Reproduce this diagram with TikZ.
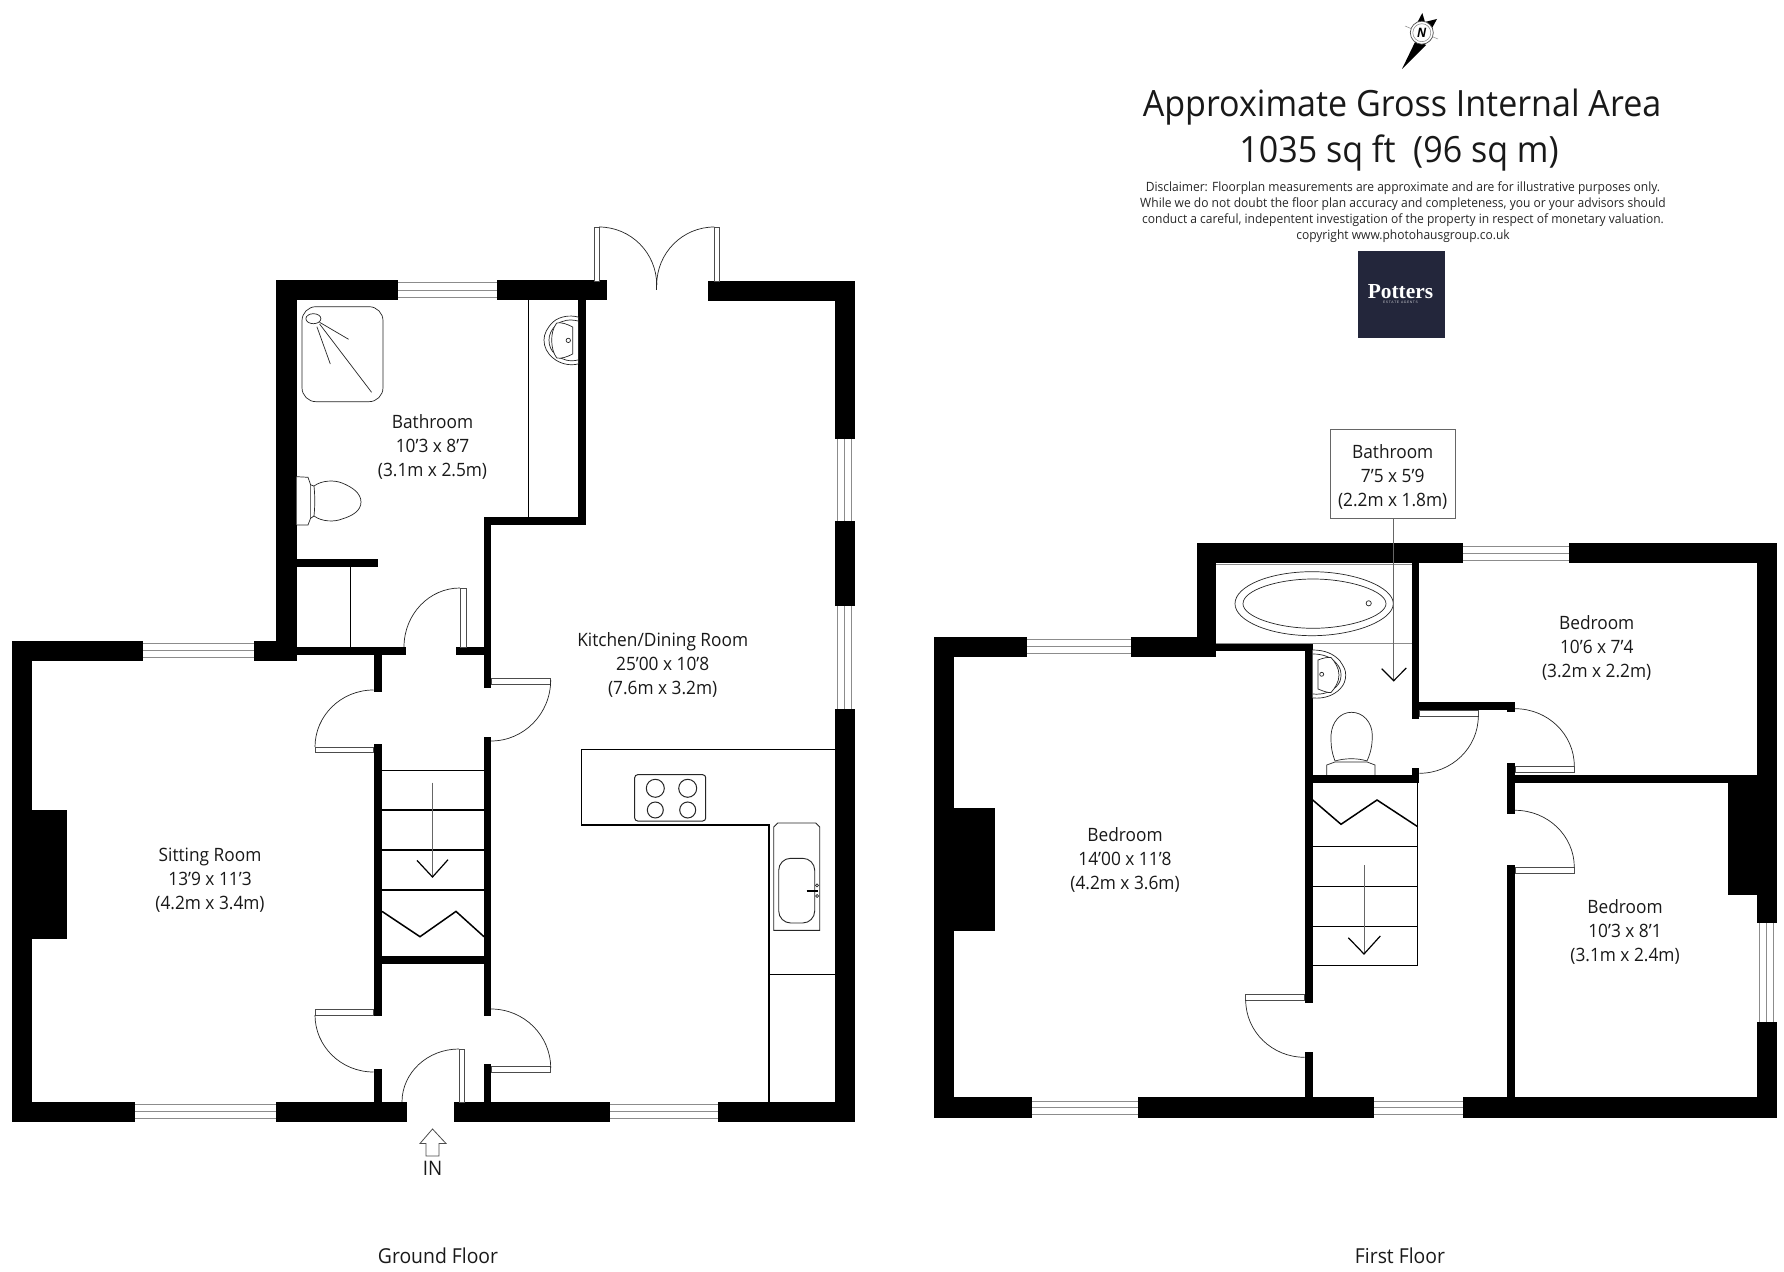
\documentclass[tikz,border=0pt]{standalone}
\usepackage{fontspec}
\setmainfont{Open Sans}[FakeStretch=0.94]
\newfontfamily\logofont{Liberation Serif}
\newfontfamily\logosans{Liberation Sans}
\usetikzlibrary{calc}
\definecolor{winc}{gray}{0.55}
\definecolor{logoc}{HTML}{23263B}
\tikzset{
  room/.style={align=center,inner sep=0pt,font=\fontsize{9.2}{12}\selectfont,text=black!90},
  floorname/.style={inner sep=0pt,font=\fontsize{10.3}{12}\selectfont,text=black!90},
  thin line/.style={draw=black,line width=0.35pt},
  fixture/.style={draw=black!85,line width=0.35pt,fill=white},
  counter/.style={draw=black,line width=0.6pt},
  doorarc/.style={draw=black!85,line width=0.35pt},
  leaf/.style={draw=black!70,line width=0.4pt,fill=white},
  winline/.style={draw=winc,line width=0.5pt},
  stairline/.style={draw=black,line width=0.6pt},
  arrowline/.style={draw=black!60,line width=0.4pt},
  arrowhead/.style={draw=black,line width=0.6pt},
}
\newcommand\wall[4]{\fill[black] (#1,#2) rectangle (#3,#4);}
\newcommand\qarc[3]{\draw[doorarc] (#1) .. controls ($(#1)!0.5523!(#2)$) and ($(#3)!0.5523!(#2)$) .. (#3);}
\newcommand\hwin[5]{\draw[winline] (#1,#3) -- (#2,#3) (#1,#4) -- (#2,#4) (#1,#5) -- (#2,#5);}
\newcommand\vwin[5]{\draw[winline] (#3,#1) -- (#3,#2) (#4,#1) -- (#4,#2) (#5,#1) -- (#5,#2);}
\begin{document}
\begin{tikzpicture}[x=0.5pt,y=-0.5pt]
\useasboundingbox (0,0) rectangle (1784,1272);
\fill[white] (0,0) rectangle (1784,1272);

% ===== GROUND FLOOR =====
% windows
\hwin{398}{497}{283}{290.5}{298}
\hwin{142}{254}{644}{651}{658}
\hwin{135}{276}{1104.5}{1111.5}{1118.5}
\hwin{610}{718}{1104.5}{1111.5}{1118.5}
\vwin{438}{522}{837.7}{844.7}{851.7}
\vwin{605}{710}{837.7}{844.7}{851.7}
% walls
\wall{276}{280}{398}{300}
\wall{497}{280}{607}{300.5}
\wall{276}{280}{296.6}{661}
\wall{578}{300}{586}{525}
\wall{484}{517}{586}{525}
\wall{484}{517}{491}{688}
\wall{484}{737}{491}{1016}
\wall{484}{1063.5}{491}{1102}
\wall{12}{641}{142.5}{661}
\wall{254}{641}{296.6}{661}
\wall{12}{641}{32}{1122}
\wall{12}{1102}{135}{1122}
\wall{276}{1102}{406.8}{1122}
\wall{454}{1102}{610}{1122}
\wall{718}{1102}{855}{1122}
\wall{32}{809.5}{67}{938.6}
\wall{296.6}{647}{406.4}{655}
\wall{456}{647}{484}{655}
\wall{373.5}{655}{382}{692}
\wall{373.5}{744}{382}{1016}
\wall{373.5}{1069}{382}{1102}
\wall{382}{955.6}{484}{964}
\wall{296.6}{559}{377.7}{567}
\wall{708.3}{281}{855}{301}
\wall{835}{281}{855}{438.6}
\wall{835}{521}{855}{605.7}
\wall{835}{709.3}{855}{1122}
% thin partitions
\draw[thin line,line width=0.5pt] (528.5,300) -- (528.5,517);
\draw[thin line,line width=0.5pt] (350,567) -- (350,647);
% shower
\draw[fixture,rounded corners=7pt] (302,306.7) rectangle (383,401.7);
\draw[fixture] (313.4,318.7) ellipse [x radius=7.5,y radius=5];
\draw[fixture] (319.6,322.3) -- (348.6,339.3) (316.9,326.7) -- (330.3,364) (319.6,324) -- (371.6,392.3);
% ground toilet
\draw[fixture] (296.6,476.7) -- (308,477.3) -- (310.7,485) -- (310.7,518) -- (308,525) -- (296.6,525);
\draw[fixture] (311,485) -- (314,486) .. controls (322,480) and (335,480) .. (342,483) .. controls (352,487) and (361,493) .. (361,502) .. controls (361,511) and (352,516) .. (342,519) .. controls (335,522) and (322,522) .. (314,516) -- (311,518);
\draw[fixture,fill=none] (314,486) .. controls (315,495) and (315,507) .. (314,516);
% ground sink
\draw[fixture] (578,317) .. controls (570,315) and (560,316) .. (553,322) .. controls (547,328) and (544,334) .. (544,340) .. controls (544,347) and (547,353) .. (553,358) .. controls (560,364) and (570,366) .. (578,364);
\draw[fixture,fill=none] (578,321) .. controls (570,319) and (562,320) .. (556,325) .. controls (551,330) and (549,335) .. (549,340) .. controls (549,346) and (551,351) .. (556,355) .. controls (562,360) and (570,362) .. (578,360);
\draw[fixture,line join=round] (572.7,327) .. controls (567,324) and (561,322) .. (556.7,323) .. controls (553,328) and (551.7,334) .. (551.7,340) .. controls (551.7,346) and (553,353) .. (556.7,358) .. controls (561,359) and (567,357) .. (572.7,354) -- cycle;
\draw[fixture] (568.3,340.4) circle [radius=2.2];
% doors
\draw[leaf] (460,588) rectangle (466,647);
\qarc{460,588}{404,588}{404,647}
\draw[leaf] (491,678) rectangle (550.7,684);
\qarc{550.7,680}{550.7,741}{491,741}
\draw[leaf] (491,1066.7) rectangle (550.7,1072.3);
\qarc{550.7,1068}{550.7,1009}{491,1009}
\draw[leaf] (315,747) rectangle (373.5,752);
\qarc{315,747}{315,690}{373.5,690}
\draw[leaf] (315,1009) rectangle (373.5,1015);
\qarc{315,1015}{315,1072}{373.5,1072}
\draw[leaf] (459,1049) rectangle (464,1102);
\qarc{459,1049}{402,1049}{402,1102}
\draw[leaf] (594.3,227) rectangle (599,281);
\draw[leaf] (714.3,227) rectangle (719.3,281);
\qarc{599,227}{656.7,227}{656.7,285}
\qarc{714.3,227}{656.7,227}{656.7,285}
\draw[doorarc] (656.7,278) -- (656.7,290);
% stairs
\foreach \yy in {770.6,810,850,890}{\draw[stairline] (382,\yy) -- (484,\yy);}
\draw[stairline,line width=0.75pt] (382,911.4) -- (420,936.7) -- (456,911.4) -- (484,936.7);
\draw[arrowline] (432.5,782.7) -- (432.5,876);
\draw[arrowhead] (417,860.4) -- (432.5,877) -- (448,859.7);
% IN arrow
\draw[draw=black!70,line width=0.4pt] (432.5,1129) -- (446,1143.5) -- (439,1143.5) -- (439,1156) -- (426,1156) -- (426,1143.5) -- (420,1143.5) -- cycle;
% kitchen units
\draw[counter] (835,749.7) -- (581.7,749.7) -- (581.7,825) -- (769,825) -- (769,1102);
\draw[counter] (769,974.3) -- (835,974.3);
\draw[fixture,rounded corners=1.5pt,line width=0.5pt] (634.7,774.7) rectangle (705.7,821);
\draw[fixture,line width=0.5pt] (655.3,788.3) circle [radius=9] (687.7,788.3) circle [radius=9] (655.3,810) circle [radius=8] (687.7,810) circle [radius=8];
\draw[fixture,line width=0.45pt] (773.7,930.3) -- (773.7,827) -- (777.7,823) -- (815.7,823) -- (819.7,827) -- (819.7,930.3) -- cycle;
\draw[fixture,rounded corners=6pt,line width=0.45pt] (778.7,858.3) rectangle (814.7,923);
\draw[black,line width=1.2pt] (806.7,890.7) -- (817.7,890.7);
\draw[fixture] (817,885.3) circle [radius=1.5] (817,896) circle [radius=1.5];

% ===== FIRST FLOOR =====
\hwin{1027}{1131}{640}{646.7}{653.7}
\hwin{1463}{1569}{546.3}{553.3}{560.3}
\hwin{1031}{1139}{1101}{1107.7}{1114.3}
\hwin{1373}{1464}{1101}{1107.7}{1114.3}
\vwin{922}{1022}{1759.7}{1766.7}{1773.7}
\wall{933.7}{636.7}{1027.3}{656.7}
\wall{1131}{636.7}{1216.3}{656.7}
\wall{1197}{543.3}{1216.3}{656.7}
\wall{1197}{543.3}{1463}{563.3}
\wall{1568.7}{543.3}{1776.7}{563.3}
\wall{1756.7}{543.3}{1776.7}{922.7}
\wall{1756.7}{1021.7}{1776.7}{1117.5}
\wall{1728}{775}{1756.7}{895}
\wall{933.7}{1097.3}{1031.7}{1117.5}
\wall{1138.3}{1097.3}{1373.7}{1117.5}
\wall{1463.3}{1097.3}{1776.7}{1117.5}
\wall{933.7}{636.7}{953.7}{1117.5}
\wall{953.7}{808.3}{994.7}{931}
\wall{1216}{643.3}{1312.7}{651}
\wall{1304.7}{643.3}{1312.7}{1002.7}
\wall{1304.7}{1052.3}{1312.7}{1097.3}
\wall{1411.5}{563}{1419.3}{719}
\wall{1411.5}{701.7}{1515}{710}
\wall{1507.3}{701.7}{1515}{712.3}
\wall{1411.5}{768.5}{1419.3}{783}
\wall{1312.7}{775}{1419.3}{782.8}
\wall{1507.3}{763.3}{1515}{814.3}
\wall{1515}{775}{1728}{783}
\wall{1507.3}{865}{1515}{1097.3}
% bath room lines
\draw[draw=winc,line width=0.5pt] (1216.3,564.5) -- (1411.5,564.5);
\draw[draw=winc,line width=0.5pt] (1216.3,643.7) -- (1411.5,643.7);
% tub
\draw[fixture] (1235,603.7) .. controls (1235,586) and (1270,571.7) .. (1312,571.7) .. controls (1355,571.7) and (1393.3,587) .. (1393.3,603.7) .. controls (1393.3,620) and (1355,635.7) .. (1312,635.7) .. controls (1270,635.7) and (1235,621) .. cycle;
\draw[fixture] (1243,603.7) .. controls (1243,590) and (1278,579) .. (1313,579) .. controls (1350,579) and (1386,591) .. (1386,603.7) .. controls (1386,616) and (1350,628.3) .. (1313,628.3) .. controls (1278,628.3) and (1243,617) .. cycle;
\draw[fixture] (1368.7,603.3) circle [radius=2.6];
% first sink
\draw[fixture] (1312.7,650) .. controls (1325,650) and (1334,654) .. (1340,661) .. controls (1344,667) and (1345.7,670) .. (1345.7,675) .. controls (1345.7,680) and (1344,685) .. (1340,689) .. controls (1334,695) and (1325,699) .. (1312.7,698);
\draw[fixture,fill=none] (1312.7,654) .. controls (1323,654) and (1331,657) .. (1336,663) .. controls (1340,667) and (1341,671) .. (1341,675) .. controls (1341,679) and (1340,683) .. (1336,687) .. controls (1331,692) and (1323,695) .. (1312.7,694);
\draw[fixture] (1318,660) .. controls (1323,658) and (1328,657) .. (1331,657.5) .. controls (1335,662) and (1339,668) .. (1339,675) .. controls (1339,682) and (1335,688) .. (1331,692.5) .. controls (1328,693) and (1323,691) .. (1318,689) -- cycle;
\draw[fixture] (1321.7,674.3) circle [radius=2];
% first toilet
\draw[fixture] (1326.7,775) -- (1326.7,765) -- (1335,762) -- (1367,762) -- (1375,765) -- (1375,775);
\draw[fixture] (1335,761) .. controls (1331,750) and (1331,745) .. (1331,735) .. controls (1332,722) and (1340,712.3) .. (1351.5,712.3) .. controls (1363,712.3) and (1372,722) .. (1372.3,735) .. controls (1372.3,745) and (1371,752) .. (1367,761) .. controls (1358,758) and (1345,758) .. (1335,761);
% first doors
\draw[leaf] (1419.3,710) rectangle (1478.3,716.7);
\qarc{1478.3,716}{1478.3,773.3}{1419.3,773.3}
\draw[leaf] (1245.7,994) rectangle (1304.7,1000);
\qarc{1245.7,1000}{1245.7,1057.3}{1304.7,1057.3}
\draw[leaf] (1515,766) rectangle (1574.3,772);
\qarc{1574.3,766}{1574.3,708.7}{1515,708.7}
\draw[leaf] (1515,867.3) rectangle (1574.3,873.3);
\qarc{1574.3,867.3}{1574.3,810.3}{1515,810.3}
% first stairs
\foreach \yy in {846.7,886.7,926.7,965.7}{\draw[stairline] (1312.7,\yy) -- (1417.7,\yy);}
\draw[stairline] (1417.7,783) -- (1417.7,966);
\draw[stairline,line width=0.75pt] (1312.7,800) -- (1341,824.3) -- (1377,800) -- (1417.7,826.7);
\draw[arrowline] (1364,865) -- (1364,954);
\draw[arrowhead] (1348.3,937.7) -- (1364,954) -- (1380.3,936);
% bathroom label
\node[draw=black!60,line width=0.5pt,minimum width=124.5*0.5pt,minimum height=89*0.5pt,inner sep=0pt,fill=white] (bathbox) at (1393.2,474.5) {};
\node[room] (bathlabel) at (1392.7,476.5) {Bathroom\\7’5 x 5’9\\(2.2m x 1.8m)};
\coordinate (bathpoint) at (1393.7,680.7);
\draw[arrowline] (1393.7,519) -- (bathpoint);
\draw[arrowhead] (1381.7,668.7) -- (bathpoint) -- (1406.3,668);

% ===== LABELS =====
\node[room] (l1) at (432.5,447) {Bathroom\\10’3 x 8’7\\(3.1m x 2.5m)};
\node[room] (l2) at (662.7,665) {Kitchen/Dining Room\\25’00 x 10’8\\(7.6m x 3.2m)};
\node[room] (l3) at (210,880) {Sitting Room\\13’9 x 11’3\\(4.2m x 3.4m)};
\node[room] (l4) at (1125,860) {Bedroom\\14’00 x 11’8\\(4.2m x 3.6m)};
\node[room] (l5) at (1596.7,648) {Bedroom\\10’6 x 7’4\\(3.2m x 2.2m)};
\node[room] (l6) at (1625,931.5) {Bedroom\\10’3 x 8’1\\(3.1m x 2.4m)};
\node[floorname,font=\fontsize{10}{12}\selectfont] (in) at (432.5,1168) {IN};
\node[floorname] (gf) at (438,1256) {Ground Floor};
\node[floorname] (ff) at (1400,1256) {First Floor};

% ===== HEADER =====
\node[inner sep=0pt,font=\fontsize{18.1}{20}\selectfont,text=black!90,anchor=base] (t1) at (1402,116.7) {Approximate Gross Internal Area};
\node[inner sep=0pt,font=\fontsize{18.1}{20}\selectfont,text=black!90,anchor=base] (t2) at (1399,163) {1035 sq ft\ \ (96 sq m)};
\node[inner sep=0pt,align=center,font=\fontsize{6.4}{8}\selectfont,text=black!85,anchor=north] (disc) at (1403,181.5) {Disclaimer: Floorplan measurements are approximate and are for illustrative purposes only.\\While we do not doubt the floor plan accuracy and completeness, you or your advisors should\\conduct a careful, indepentent investigation of the property in respect of monetary valuation.\\copyright www.photohausgroup.co.uk};
% logo
\fill[logoc] (1357.5,251) rectangle (1444.6,338);
\node[inner sep=0pt,text=white,font=\logofont\bfseries\fontsize{10.7}{12}\selectfont] (logo) at (1400.5,291.5) {Potters};
\node[inner sep=0pt,text=white!75!logoc,font=\logosans\fontsize{1.7}{2}\selectfont] (logosub) at (1400.5,302.5) {E\,S\,T\,A\,T\,E\ \ A\,G\,E\,N\,T\,S};
% compass
\fill[black] (1402,69) -- (1416,40) -- (1426,45) -- cycle;
\fill[black] (1422.3,13) -- (1425,22) -- (1437,19) -- (1431,30) -- (1416,25) -- cycle;
\draw[fill=white,draw=black!70,line width=0.35pt] (1421.8,32.7) circle [radius=11.5];
\draw[fill=none,draw=black!50,line width=0.25pt] (1421.8,32.7) circle [radius=9];
\draw[draw=black!45,line width=0.25pt] (1405,26) -- (1412,29) (1432,36.5) -- (1438,39);
\node[inner sep=0pt,font=\fontsize{6.5}{7}\selectfont\bfseries\itshape] (north) at (1421.8,32.7) {N};
\end{tikzpicture}
\end{document}
